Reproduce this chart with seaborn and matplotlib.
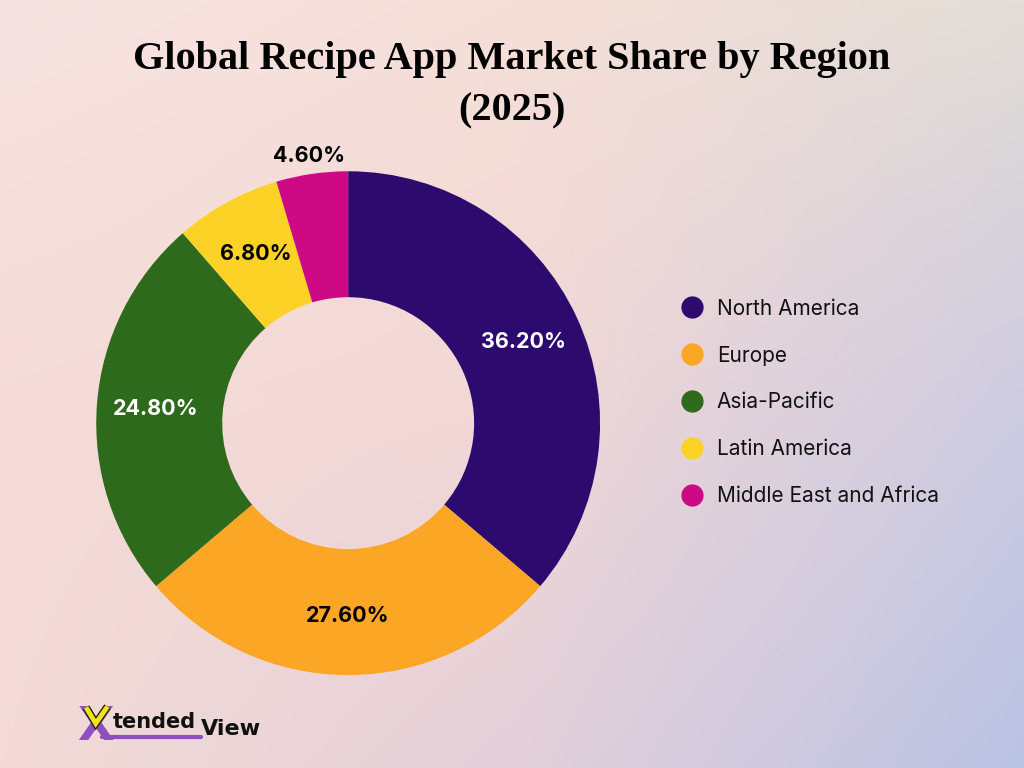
import numpy as np
import matplotlib
matplotlib.use("Agg")
import matplotlib.pyplot as plt
import matplotlib.patheffects as pe
from matplotlib.lines import Line2D
from matplotlib.colors import to_rgb
import seaborn as sns

regions = ["North America", "Europe", "Asia-Pacific", "Latin America", "Middle East and Africa"]
shares = [36.2, 27.6, 24.8, 6.8, 4.6]
colors = ["#2D0B6E", "#FBA624", "#2E6A1C", "#FDD226", "#CD0A84"]
label_colors = ["white", "black", "white", "black", "black"]
title = "Global Recipe App Market Share by Region\n(2025)"

sns.set_theme(style="white")
plt.rcParams["font.family"] = ["Inter", "DejaVu Sans"]

fig = plt.figure(figsize=(10.24, 7.68), dpi=100)

# background gradient (3x3 colour nodes, bilinear between them)
grid_hex = [["#F7E4E2", "#F6DFD8", "#E3DDD6"],
            ["#F5DCD8", "#F2D8D6", "#CFCCE0"],
            ["#F3DAD6", "#E4D0DA", "#BAC3E4"]]
nodes = np.array([[to_rgb(c) for c in row] for row in grid_hex])
h, w = 192, 256
ys = np.linspace(0, 1, h)
xs = np.linspace(0, 1, w)
tmp = np.empty((3, w, 3))
for r in range(3):
    for ch in range(3):
        tmp[r, :, ch] = np.interp(xs, [0, 0.5, 1], nodes[r, :, ch])
img = np.empty((h, w, 3))
for ch in range(3):
    for j in range(w):
        img[:, j, ch] = np.interp(ys, [0, 0.5, 1], tmp[:, j, ch])
bg = fig.add_axes([0, 0, 1, 1], zorder=-10)
bg.imshow(img, aspect="auto", extent=[0, 1, 0, 1], origin="upper", interpolation="bilinear")
bg.set_axis_off()

# donut
ax = fig.add_axes([0.094, 0.121, 0.492, 0.656])
ax.set_facecolor("none")
wedges, _ = ax.pie(shares, colors=colors, startangle=90, counterclock=False,
                   radius=1.0, wedgeprops=dict(width=0.5, edgecolor="none"))
ax.set_xlim(-1, 1)
ax.set_ylim(-1, 1)
ax.set_aspect("equal")
ax.set_axis_off()

for i, (wdg, val) in enumerate(zip(wedges, shares)):
    ang = np.deg2rad((wdg.theta1 + wdg.theta2) / 2)
    r = 1.07 if val < 5 else 0.765
    ax.text(r * np.cos(ang), r * np.sin(ang), f"{val:.2f}%",
            ha="center", va="center", fontsize=15.5, fontweight="bold",
            color=label_colors[i])

# legend
handles = [Line2D([], [], marker="o", linestyle="", markersize=15,
                  markerfacecolor=c, markeredgecolor=c) for c in colors]
fig.legend(handles, regions, loc="upper left", bbox_to_anchor=(0.647, 0.622),
           frameon=False, fontsize=15, labelspacing=1.29, handletextpad=0.2,
           borderaxespad=0, labelcolor="#111111")

# title
fig.text(0.5, 0.889, title, ha="center", va="center", fontsize=29,
         fontweight="bold", family=["Liberation Serif", "DejaVu Serif"],
         linespacing=1.51, color="black")

# logo
fig.text(0.075, 0.037, "X", fontsize=34, fontweight="bold", color="#8E4FC0",
         family=["DejaVu Sans"], ha="left", va="baseline", zorder=3)
fig.add_artist(Line2D([0.084, 0.0935, 0.105], [0.079, 0.058, 0.080],
                      color="#F2E21C", lw=3.5, solid_joinstyle="miter",
                      solid_capstyle="butt", transform=fig.transFigure, zorder=6,
                      path_effects=[pe.Stroke(linewidth=5.5, foreground="#222222"),
                                    pe.Normal()]))
fig.text(0.110, 0.052, "tended", fontsize=15, fontweight="bold", color="#111111",
         family=["DejaVu Sans"], ha="left", va="baseline")
fig.text(0.196, 0.043, "View", fontsize=16, fontweight="bold", color="#111111",
         family=["DejaVu Sans"], ha="left", va="baseline")
fig.add_artist(Line2D([0.10, 0.196], [0.041, 0.041], color="#8E4FC0", lw=3,
                      transform=fig.transFigure, zorder=4))

fig.savefig("out.png", dpi=100)
